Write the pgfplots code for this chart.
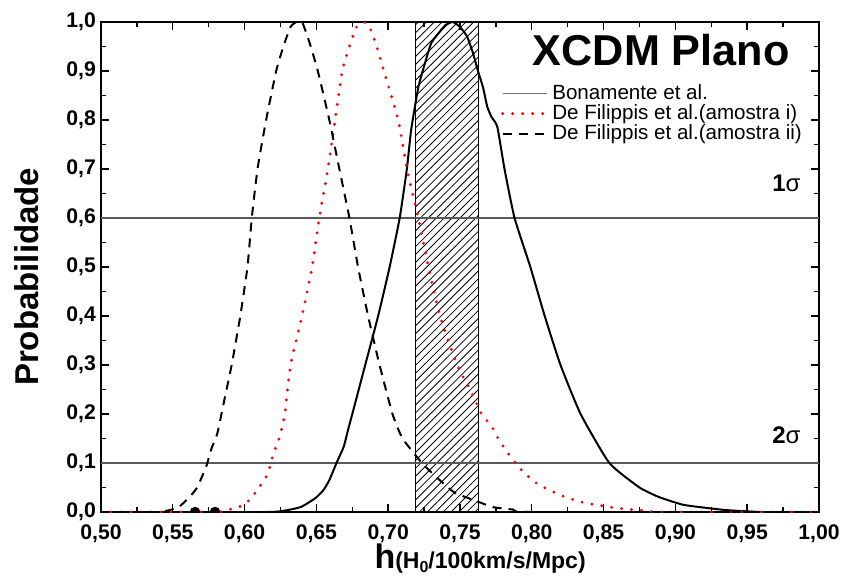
\documentclass[border=0pt]{standalone}
\usepackage{fontspec}
\setmainfont{Liberation Sans}
\usepackage{pgfplots}
\pgfplotsset{compat=1.18}
\usetikzlibrary{patterns.meta}

\begin{document}
\begin{tikzpicture}
\path[use as bounding box] (-50.5pt,-31.5pt) rectangle (370.5pt,256pt);
\begin{axis}[
  scale only axis,
  width=359pt, height=245pt,
  xmin=0.5, xmax=1.0, ymin=0, ymax=1.0,
  xtick={0.5,0.55,0.6,0.65,0.7,0.75,0.8,0.85,0.9,0.95,1.0},
  ytick={0,0.1,0.2,0.3,0.4,0.5,0.6,0.7,0.8,0.9,1.0},
  minor x tick num=1, minor y tick num=1,
  tick align=inside,
  major tick length=4pt, minor tick length=2.5pt,
  axis line style={line width=0.8pt},
  every tick/.style={black, line width=0.7pt},
  /pgf/number format/assume math mode=true,
  xticklabel style={/pgf/number format/.cd, fixed, fixed zerofill, precision=2, use comma, /tikz/.cd, yshift=-3pt},
  yticklabel style={/pgf/number format/.cd, fixed, fixed zerofill, precision=1, use comma, /tikz/.cd, xshift=1pt},
  tick label style={font=\bfseries\fontsize{10.6}{12}\selectfont},
  xlabel={\bfseries\fontsize{17}{18}\selectfont h\fontsize{11.5}{13}\selectfont(H\raisebox{-0.3ex}{\fontsize{8}{9}\selectfont 0}/100km/s/Mpc)},
  xlabel style={at={(axis description cs:0.528,-0.096)}, anchor=center},
  ylabel={\bfseries\fontsize{16.5}{18}\selectfont Probabilidade},
  ylabel style={at={(axis description cs:-0.103,0.48)}, anchor=center},
  clip marker paths=true,
  legend cell align=left,
  legend style={draw=none, fill=none, at={(rel axis cs:0.985,0.885)}, anchor=north east,
    font=\fontsize{10.3}{12}\selectfont, row sep=-3pt, inner sep=1pt},
  legend image code/.code={\draw[#1] (0pt,0pt) -- (22pt,0pt);},
]
% hatched band
\addplot[forget plot, draw=black, line width=0.6pt,
  pattern={Lines[angle=45,distance=2.8pt,line width=0.4pt]}]
  coordinates {(0.719,0) (0.719,1) (0.763,1) (0.763,0) (0.719,0)};
% sigma lines
\addplot[forget plot, draw=black!65, line width=0.6pt] coordinates {(0.5,0.6) (1.0,0.6)};
\addplot[forget plot, draw=black!65, line width=0.6pt] coordinates {(0.5,0.1) (1.0,0.1)};

\addlegendimage{draw=black!55, line width=0.6pt}
\addlegendentry{Bonamente et al.}
\addlegendimage{draw=red, line width=1.6pt, dash pattern=on 0pt off 5pt, line cap=round}
\addlegendentry{De Filippis et al.(amostra i)}
\addlegendimage{draw=black, line width=1pt, dash pattern=on 4.5pt off 3.5pt}
\addlegendentry{De Filippis et al.(amostra ii)}

% Bonamente
\addplot[forget plot, black, line width=1pt, smooth, tension=0.3] coordinates {
(0.5,0) (0.615,0) (0.63,0.004) (0.639,0.01) (0.645,0.02) (0.65,0.03) (0.655,0.045)
(0.659,0.065) (0.664,0.1) (0.669,0.133) (0.672,0.167) (0.675,0.2) (0.684,0.3)
(0.693,0.4) (0.701,0.5) (0.708,0.6) (0.713,0.7) (0.716,0.78) (0.721,0.867)
(0.726,0.92) (0.730,0.957) (0.735,0.977) (0.740,0.994) (0.745,1.0) (0.750,0.99)
(0.755,0.97) (0.759,0.937) (0.7625,0.9) (0.766,0.867) (0.769,0.827) (0.772,0.806)
(0.776,0.786) (0.781,0.7) (0.788,0.6) (0.799,0.5) (0.809,0.4) (0.82,0.3)
(0.834,0.2) (0.854,0.1) (0.875,0.05) (0.889,0.03) (0.905,0.015) (0.917,0.01)
(0.935,0.004) (0.96,0) (1.0,0)};

% De Filippis amostra i
\addplot[forget plot, red, line width=1.6pt, dash pattern=on 0pt off 5pt, line cap=round, smooth, tension=0.3] coordinates {
(0.5,0) (0.58,0) (0.588,0.005) (0.595,0.008) (0.604,0.026) (0.61,0.05)
(0.615,0.072) (0.618,0.095) (0.62,0.12) (0.623,0.14) (0.625,0.16) (0.628,0.2)
(0.632,0.30) (0.64,0.40) (0.647,0.5) (0.652,0.6) (0.658,0.7) (0.663,0.8)
(0.668,0.9) (0.673,0.95) (0.678,0.99) (0.683,1.0) (0.687,0.99) (0.692,0.95)
(0.697,0.90) (0.707,0.80) (0.713,0.70) (0.721,0.60) (0.728,0.50) (0.736,0.40)
(0.748,0.30) (0.757,0.25) (0.765,0.20) (0.772,0.175) (0.776,0.153) (0.781,0.13)
(0.787,0.106) (0.794,0.082) (0.802,0.061) (0.812,0.045) (0.822,0.032)
(0.835,0.02) (0.85,0.012) (0.865,0.006) (0.88,0.003) (0.89,0.0) (1.0,0)};

% De Filippis amostra ii
\addplot[forget plot, black, line width=1pt, dash pattern=on 4.5pt off 3.5pt, smooth, tension=0.3] coordinates {
(0.5,0) (0.53,0) (0.54,0.0) (0.548,0.004) (0.554,0.01) (0.558,0.02) (0.563,0.035)
(0.567,0.05) (0.570,0.07) (0.573,0.09) (0.577,0.13) (0.581,0.16) (0.586,0.23)
(0.591,0.30) (0.597,0.40) (0.602,0.50) (0.605,0.60) (0.609,0.70) (0.615,0.80)
(0.622,0.90) (0.627,0.95) (0.632,0.99) (0.636,1.0) (0.640,1.0) (0.645,0.96)
(0.651,0.90) (0.659,0.80) (0.666,0.70) (0.673,0.60) (0.679,0.50) (0.686,0.40)
(0.694,0.30) (0.703,0.20) (0.710,0.15) (0.7235,0.10) (0.734,0.07) (0.746,0.04)
(0.759,0.025) (0.773,0.01) (0.787,0.005) (0.80,0.0) (1.0,0)};

% small markers at the base
\addplot[forget plot, only marks, mark=*, mark size=2.4pt, black] coordinates {(0.5655,0) (0.5794,0)};

\node[anchor=east, font=\bfseries\fontsize{21.6}{24}\selectfont] at (rel axis cs:0.969,0.943) {XCDM Plano};
\node[anchor=east, font=\fontsize{12}{14}\selectfont] at (axis cs:0.992,0.67) {\textbf{1}σ};
\node[anchor=east, font=\fontsize{12}{14}\selectfont] at (axis cs:0.992,0.157) {\textbf{2}σ};
\end{axis}
\end{tikzpicture}
\end{document}
